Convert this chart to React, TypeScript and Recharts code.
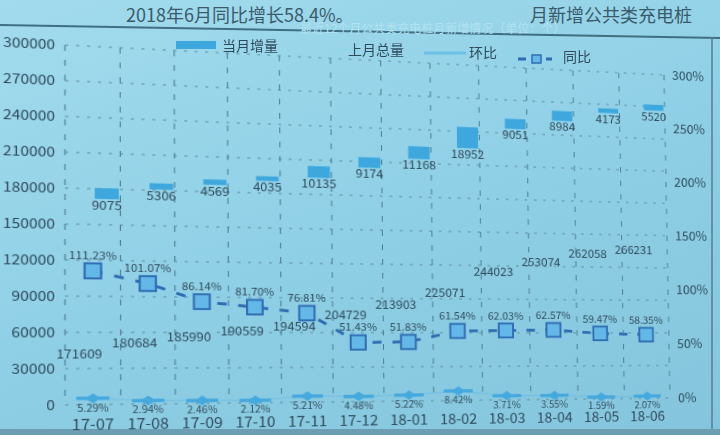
import {
  Bar,
  CartesianGrid,
  ComposedChart,
  LabelList,
  Line,
  XAxis,
  YAxis,
} from 'recharts'

const months = ['17-07', '17-08', '17-09', '17-10', '17-11', '17-12', '18-01', '18-02', '18-03', '18-04', '18-05', '18-06']
const prevTotal = [171609, 180684, 185990, 190559, 194594, 204729, 213903, 225071, 244023, 253074, 262058, 266231]
const monthAdd = [9075, 5306, 4569, 4035, 10135, 9174, 11168, 18952, 9051, 8984, 4173, 5520]
const momPct = [5.29, 2.94, 2.46, 2.12, 5.21, 4.48, 5.22, 8.42, 3.71, 3.55, 1.59, 2.07]
const yoyPct = [111.23, 101.07, 86.14, 81.7, 76.81, 51.43, 51.83, 61.54, 62.03, 62.57, 59.47, 58.35]
const countTicks = [0, 30000, 60000, 90000, 120000, 150000, 180000, 210000, 240000, 270000, 300000]
const pctTicks = [0, 50, 100, 150, 200, 250, 300]

const data = months.map((month, i) => ({
  month,
  base: prevTotal[i],
  add: monthAdd[i],
  mom: momPct[i],
  yoy: yoyPct[i],
}))

const INK = '#2d4b5c'
const BAR = '#3ea8de'
const YOY = '#2f6db3'
const MOM = '#45a9de'
const FONT = '"Noto Sans CJK SC", "Noto Sans", sans-serif'

// the reference is a photo of a slide, taken at an angle.
// the chart is drawn flat, then its plot rectangle is mapped onto the
// quad the photo shows (TL, TR, BR, BL)
const FLAT = { left: 65, top: 45, right: 670, bottom: 405 }
const PHOTO = [
  [65, 45],
  [664, 75],
  [670, 398],
  [65, 405],
]

function photoTransform() {
  const [[x0, y0], [x1, y1], [x2, y2], [x3, y3]] = PHOTO
  const dx1 = x1 - x2
  const dx2 = x3 - x2
  const dx3 = x0 - x1 + x2 - x3
  const dy1 = y1 - y2
  const dy2 = y3 - y2
  const dy3 = y0 - y1 + y2 - y3
  const den = dx1 * dy2 - dx2 * dy1
  const g = (dx3 * dy2 - dx2 * dy3) / den
  const h = (dx1 * dy3 - dx3 * dy1) / den
  const a = x1 - x0 + g * x1
  const b = x3 - x0 + h * x3
  const d = y1 - y0 + g * y1
  const e = y3 - y0 + h * y3
  const W = FLAT.right - FLAT.left
  const H = FLAT.bottom - FLAT.top
  const L = FLAT.left
  const T = FLAT.top
  const m11 = a / W
  const m12 = b / H
  const m13 = x0 - (a * L) / W - (b * T) / H
  const m21 = d / W
  const m22 = e / H
  const m23 = y0 - (d * L) / W - (e * T) / H
  const m31 = g / W
  const m32 = h / H
  const m33 = 1 - (g * L) / W - (h * T) / H
  return `matrix3d(${m11},${m21},0,${m31},${m12},${m22},0,${m32},0,0,1,0,${m13},${m23},0,${m33})`
}

function YoyDot(props: any) {
  const { cx, cy } = props
  if (cx == null || cy == null) return null
  return <rect x={cx - 7.5} y={cy - 7.5} width={15} height={15} fill="#63b8e8" stroke={YOY} strokeWidth={2} />
}

function MomDot(props: any) {
  const { cx, cy } = props
  if (cx == null || cy == null) return null
  return (
    <g>
      <line x1={cx - 15} y1={cy} x2={cx + 15} y2={cy} stroke={MOM} strokeWidth={3.5} />
      <path d={`M${cx - 7},${cy} L${cx},${cy - 5} L${cx + 7},${cy} L${cx},${cy + 5} Z`} fill={MOM} />
    </g>
  )
}

function baseLabel(props: any) {
  const { x, y, width, value } = props
  return (
    <text x={x + width / 2} y={y + 160} textAnchor="middle" fontSize={12.5} fill={INK}>
      {value}
    </text>
  )
}

function addLabel(props: any) {
  const { x, y, width, height, value } = props
  return (
    <text x={x + width / 2} y={y + height + 11} textAnchor="middle" fontSize={12.5} fill={INK}>
      {value}
    </text>
  )
}

function yoyLabel(props: any) {
  const { x, y, value } = props
  return (
    <text x={x} y={y - 12} textAnchor="middle" fontSize={11} fill={INK}>
      {`${value.toFixed(2)}%`}
    </text>
  )
}

function momLabel(props: any) {
  const { x, y, value } = props
  return (
    <text x={x} y={y + 13} textAnchor="middle" fontSize={10} fill={INK}>
      {`${value.toFixed(2)}%`}
    </text>
  )
}

export default function App() {
  return (
    <div
      style={{
        position: 'absolute',
        left: 0,
        top: 0,
        width: 720,
        height: 435,
        overflow: 'hidden',
        fontFamily: FONT,
        color: INK,
        background: 'linear-gradient(160deg, #a2dbed 0%, #90d0e6 50%, #84c5dd 100%)',
      }}
    >
      {/* slide text above the chart */}
      <div style={{ position: 'absolute', left: 126, top: 1, fontSize: 18, whiteSpace: 'nowrap', color: '#3a5a6a' }}>
        2018年6月同比增长58.4%。
      </div>
      <div style={{ position: 'absolute', left: 530, top: 1, fontSize: 18, whiteSpace: 'nowrap', color: '#3a5a6a' }}>
        月新增公共类充电桩
      </div>
      <svg width={720} height={435} style={{ position: 'absolute', left: 0, top: 0 }}>
        <line x1={0} y1={25} x2={720} y2={38} stroke="#3f6f83" strokeWidth={2} />
        <line x1={712} y1={37} x2={712} y2={430} stroke="#4f8195" strokeWidth={1.5} />
        <rect x={0} y={429} width={720} height={6} fill="#6b9eb2" />
        <text x={300} y={33} fontSize={12} fill="#b2e1f0" fontFamily={FONT}>
          最近12个月公共类充电桩月新增情况（单位：个）
        </text>
      </svg>

      <div style={{ position: 'absolute', left: 0, top: 0, transformOrigin: '0 0', transform: photoTransform() }}>
        <ComposedChart
          width={720}
          height={435}
          data={data}
          margin={{ top: 45, right: 5, bottom: 5, left: 5 }}
          barSize={22}
          barGap={3}
        >
          <CartesianGrid yAxisId="left" vertical={false} stroke="#5f8c9f" strokeDasharray="3 7" />
          <CartesianGrid
            yAxisId="left"
            horizontal={false}
            stroke="#4b7a8e"
            strokeDasharray="6 9"
            verticalCoordinatesGenerator={({ offset }: any) =>
              Array.from({ length: months.length + 1 }, (_, i) => offset.left + (i * offset.width) / months.length)
            }
          />
          <XAxis
            dataKey="month"
            axisLine={false}
            tickLine={false}
            height={25}
            tickMargin={8}
            interval={0}
            tick={{ fontSize: 15, fill: INK }}
          />
          <YAxis
            yAxisId="left"
            width={60}
            domain={[0, 300000]}
            ticks={countTicks}
            axisLine={false}
            tickLine={false}
            tickMargin={3}
            tick={{ fontSize: 14, fill: INK }}
          />
          <YAxis
            yAxisId="right"
            orientation="right"
            width={45}
            domain={[0, 300]}
            ticks={pctTicks}
            axisLine={false}
            tickLine={false}
            tickMargin={3}
            tick={{ fontSize: 14, fill: INK }}
            tickFormatter={(v: number) => `${v}%`}
          />
          <Bar yAxisId="left" dataKey="base" stackId="label" name="上月总量" fill="transparent" isAnimationActive={false}>
            <LabelList dataKey="base" content={baseLabel} />
          </Bar>
          <Bar yAxisId="left" dataKey="base" stackId="s" fill="transparent" legendType="none" isAnimationActive={false} />
          <Bar yAxisId="left" dataKey="add" stackId="s" name="当月增量" fill={BAR} isAnimationActive={false}>
            <LabelList dataKey="add" content={addLabel} />
          </Bar>
          <Line
            yAxisId="right"
            dataKey="mom"
            name="环比"
            stroke={MOM}
            strokeOpacity={0.25}
            strokeWidth={1.5}
            dot={<MomDot />}
            activeDot={false}
            isAnimationActive={false}
          >
            <LabelList dataKey="mom" content={momLabel} />
          </Line>
          <Line
            yAxisId="right"
            dataKey="yoy"
            name="同比"
            stroke={YOY}
            strokeWidth={3}
            strokeDasharray="9 11"
            dot={<YoyDot />}
            activeDot={false}
            isAnimationActive={false}
          >
            <LabelList dataKey="yoy" content={yoyLabel} />
          </Line>
        </ComposedChart>
      </div>

      {/* legend, placed where the photo shows it */}
      <svg width={720} height={80} style={{ position: 'absolute', left: 0, top: 0 }}>
        <rect x={176} y={41} width={40} height={8} fill={BAR} />
        <text x={222} y={51} fontSize={14} fill={INK} fontFamily={FONT}>当月增量</text>
        <text x={348} y={55} fontSize={14} fill={INK} fontFamily={FONT}>上月总量</text>
        <line x1={424} y1={53} x2={466} y2={53} stroke="#6cc0e6" strokeWidth={3} />
        <text x={469} y={58} fontSize={14} fill={INK} fontFamily={FONT}>环比</text>
        <line x1={518} y1={59} x2={552} y2={59} stroke={YOY} strokeWidth={3} strokeDasharray="8 6" />
        <rect x={532} y={55} width={9} height={8} fill="#63b8e8" stroke={YOY} strokeWidth={1.5} />
        <text x={563} y={62} fontSize={14} fill={INK} fontFamily={FONT}>同比</text>
      </svg>
    </div>
  )
}
